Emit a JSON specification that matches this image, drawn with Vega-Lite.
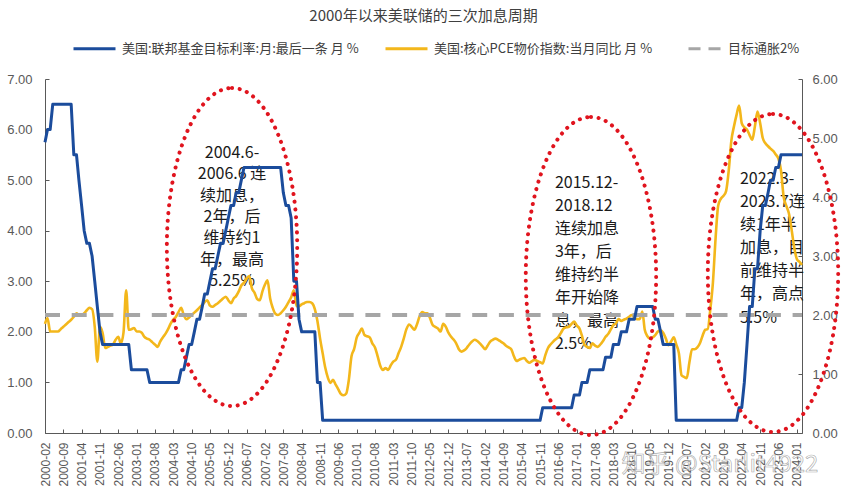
{
"$schema":"https://vega.github.io/schema/vega-lite/v6.json",
"width":757,"height":354,
"autosize":{"type":"none"},
"padding":{"left":45,"top":79,"right":49,"bottom":67},
"background":"#ffffff",
"config":{"view":{"stroke":null},"axis":{"grid":false}},
"title":{"text":"2000年以来美联储的三次加息周期","font":"Noto Sans CJK SC","fontSize":15,"fontWeight":"normal","color":"#404040","anchor":"middle","frame":"group","offset":2},
"datasets":{"m":[
{"d":"2000/02/01","f":5.75,"p":1.85},{"d":"2000/03/01","f":6,"p":1.95},{"d":"2000/04/01","f":6,"p":1.72},{"d":"2000/05/01","f":6.5,"p":1.72},{"d":"2000/06/01","f":6.5,"p":1.72},{"d":"2000/07/01","f":6.5,"p":1.72},{"d":"2000/08/01","f":6.5,"p":1.76},{"d":"2000/09/01","f":6.5,"p":1.8},{"d":"2000/10/01","f":6.5,"p":1.84},{"d":"2000/11/01","f":6.5,"p":1.88},{"d":"2000/12/01","f":6.5,"p":1.92},
{"d":"2001/01/01","f":5.5,"p":1.97},{"d":"2001/02/01","f":5.5,"p":2.03},{"d":"2001/03/01","f":5,"p":2.0},{"d":"2001/04/01","f":4.5,"p":2.0},{"d":"2001/05/01","f":4,"p":2.03},{"d":"2001/06/01","f":3.75,"p":2.08},{"d":"2001/07/01","f":3.75,"p":2.12},{"d":"2001/08/01","f":3.5,"p":2.1},{"d":"2001/09/01","f":3,"p":1.8},{"d":"2001/10/01","f":2.5,"p":1.21},{"d":"2001/11/01","f":2,"p":1.8},{"d":"2001/12/01","f":1.75,"p":1.7},
{"d":"2002/01/01","f":1.75,"p":1.44},{"d":"2002/02/01","f":1.75,"p":1.46},{"d":"2002/03/01","f":1.75,"p":1.48},{"d":"2002/04/01","f":1.75,"p":1.5},{"d":"2002/05/01","f":1.75,"p":1.58},{"d":"2002/06/01","f":1.75,"p":1.63},{"d":"2002/07/01","f":1.75,"p":1.52},{"d":"2002/08/01","f":1.75,"p":1.7},{"d":"2002/09/01","f":1.75,"p":2.42},{"d":"2002/10/01","f":1.75,"p":1.75},{"d":"2002/11/01","f":1.25,"p":1.76},{"d":"2002/12/01","f":1.25,"p":1.78},
{"d":"2003/01/01","f":1.25,"p":1.72},{"d":"2003/02/01","f":1.25,"p":1.72},{"d":"2003/03/01","f":1.25,"p":1.7},{"d":"2003/04/01","f":1.25,"p":1.63},{"d":"2003/05/01","f":1.25,"p":1.6},{"d":"2003/06/01","f":1,"p":1.58},{"d":"2003/07/01","f":1,"p":1.54},{"d":"2003/08/01","f":1,"p":1.5},{"d":"2003/09/01","f":1,"p":1.46},{"d":"2003/10/01","f":1,"p":1.55},{"d":"2003/11/01","f":1,"p":1.62},{"d":"2003/12/01","f":1,"p":1.68},
{"d":"2004/01/01","f":1,"p":1.76},{"d":"2004/02/01","f":1,"p":1.86},{"d":"2004/03/01","f":1,"p":1.92},{"d":"2004/04/01","f":1,"p":1.97},{"d":"2004/05/01","f":1,"p":2.05},{"d":"2004/06/01","f":1.25,"p":2.12},{"d":"2004/07/01","f":1.25,"p":2.0},{"d":"2004/08/01","f":1.5,"p":1.93},{"d":"2004/09/01","f":1.75,"p":1.96},{"d":"2004/10/01","f":1.75,"p":2.0},{"d":"2004/11/01","f":2,"p":2.04},{"d":"2004/12/01","f":2.25,"p":2.08},
{"d":"2005/01/01","f":2.25,"p":2.13},{"d":"2005/02/01","f":2.5,"p":2.17},{"d":"2005/03/01","f":2.75,"p":2.22},{"d":"2005/04/01","f":2.75,"p":2.25},{"d":"2005/05/01","f":3,"p":2.16},{"d":"2005/06/01","f":3.25,"p":2.14},{"d":"2005/07/01","f":3.25,"p":2.17},{"d":"2005/08/01","f":3.5,"p":2.2},{"d":"2005/09/01","f":3.75,"p":2.24},{"d":"2005/10/01","f":3.75,"p":2.28},{"d":"2005/11/01","f":4,"p":2.31},{"d":"2005/12/01","f":4.25,"p":2.25},
{"d":"2006/01/01","f":4.5,"p":2.2},{"d":"2006/02/01","f":4.5,"p":2.28},{"d":"2006/03/01","f":4.75,"p":2.32},{"d":"2006/04/01","f":4.75,"p":2.4},{"d":"2006/05/01","f":5,"p":2.5},{"d":"2006/06/01","f":5.25,"p":2.55},{"d":"2006/07/01","f":5.25,"p":2.62},{"d":"2006/08/01","f":5.25,"p":2.66},{"d":"2006/09/01","f":5.25,"p":2.45},{"d":"2006/10/01","f":5.25,"p":2.38},{"d":"2006/11/01","f":5.25,"p":2.27},{"d":"2006/12/01","f":5.25,"p":2.25},
{"d":"2007/01/01","f":5.25,"p":2.4},{"d":"2007/02/01","f":5.25,"p":2.52},{"d":"2007/03/01","f":5.25,"p":2.59},{"d":"2007/04/01","f":5.25,"p":2.28},{"d":"2007/05/01","f":5.25,"p":2.12},{"d":"2007/06/01","f":5.25,"p":2.02},{"d":"2007/07/01","f":5.25,"p":2.0},{"d":"2007/08/01","f":5.25,"p":2.03},{"d":"2007/09/01","f":4.75,"p":2.08},{"d":"2007/10/01","f":4.5,"p":2.14},{"d":"2007/11/01","f":4.5,"p":2.22},{"d":"2007/12/01","f":4.25,"p":2.3},
{"d":"2008/01/01","f":3,"p":2.42},{"d":"2008/02/01","f":3,"p":2.15},{"d":"2008/03/01","f":2.25,"p":2.15},{"d":"2008/04/01","f":2,"p":2.18},{"d":"2008/05/01","f":2,"p":2.2},{"d":"2008/06/01","f":2,"p":2.22},{"d":"2008/07/01","f":2,"p":2.22},{"d":"2008/08/01","f":2,"p":2.2},{"d":"2008/09/01","f":2,"p":2.1},{"d":"2008/10/01","f":1,"p":1.9},{"d":"2008/11/01","f":1,"p":1.6},{"d":"2008/12/01","f":0.25,"p":1.35},
{"d":"2009/01/01","f":0.25,"p":1.1},{"d":"2009/02/01","f":0.25,"p":0.93},{"d":"2009/03/01","f":0.25,"p":0.85},{"d":"2009/04/01","f":0.25,"p":0.9},{"d":"2009/05/01","f":0.25,"p":0.82},{"d":"2009/06/01","f":0.25,"p":0.74},{"d":"2009/07/01","f":0.25,"p":0.66},{"d":"2009/08/01","f":0.25,"p":0.64},{"d":"2009/09/01","f":0.25,"p":0.67},{"d":"2009/10/01","f":0.25,"p":0.9},{"d":"2009/11/01","f":0.25,"p":1.3},{"d":"2009/12/01","f":0.25,"p":1.42},
{"d":"2010/01/01","f":0.25,"p":1.62},{"d":"2010/02/01","f":0.25,"p":1.7},{"d":"2010/03/01","f":0.25,"p":1.77},{"d":"2010/04/01","f":0.25,"p":1.66},{"d":"2010/05/01","f":0.25,"p":1.64},{"d":"2010/06/01","f":0.25,"p":1.62},{"d":"2010/07/01","f":0.25,"p":1.52},{"d":"2010/08/01","f":0.25,"p":1.45},{"d":"2010/09/01","f":0.25,"p":1.3},{"d":"2010/10/01","f":0.25,"p":1.14},{"d":"2010/11/01","f":0.25,"p":1.07},{"d":"2010/12/01","f":0.25,"p":1.1},
{"d":"2011/01/01","f":0.25,"p":1.07},{"d":"2011/02/01","f":0.25,"p":1.15},{"d":"2011/03/01","f":0.25,"p":1.21},{"d":"2011/04/01","f":0.25,"p":1.24},{"d":"2011/05/01","f":0.25,"p":1.35},{"d":"2011/06/01","f":0.25,"p":1.46},{"d":"2011/07/01","f":0.25,"p":1.6},{"d":"2011/08/01","f":0.25,"p":1.76},{"d":"2011/09/01","f":0.25,"p":1.84},{"d":"2011/10/01","f":0.25,"p":1.8},{"d":"2011/11/01","f":0.25,"p":1.75},{"d":"2011/12/01","f":0.25,"p":1.84},
{"d":"2012/01/01","f":0.25,"p":1.98},{"d":"2012/02/01","f":0.25,"p":2.05},{"d":"2012/03/01","f":0.25,"p":2.03},{"d":"2012/04/01","f":0.25,"p":2.03},{"d":"2012/05/01","f":0.25,"p":1.95},{"d":"2012/06/01","f":0.25,"p":1.83},{"d":"2012/07/01","f":0.25,"p":1.8},{"d":"2012/08/01","f":0.25,"p":1.77},{"d":"2012/09/01","f":0.25,"p":1.72},{"d":"2012/10/01","f":0.25,"p":1.85},{"d":"2012/11/01","f":0.25,"p":1.8},{"d":"2012/12/01","f":0.25,"p":1.7},
{"d":"2013/01/01","f":0.25,"p":1.63},{"d":"2013/02/01","f":0.25,"p":1.58},{"d":"2013/03/01","f":0.25,"p":1.52},{"d":"2013/04/01","f":0.25,"p":1.42},{"d":"2013/05/01","f":0.25,"p":1.38},{"d":"2013/06/01","f":0.25,"p":1.4},{"d":"2013/07/01","f":0.25,"p":1.44},{"d":"2013/08/01","f":0.25,"p":1.5},{"d":"2013/09/01","f":0.25,"p":1.55},{"d":"2013/10/01","f":0.25,"p":1.58},{"d":"2013/11/01","f":0.25,"p":1.56},{"d":"2013/12/01","f":0.25,"p":1.52},
{"d":"2014/01/01","f":0.25,"p":1.47},{"d":"2014/02/01","f":0.25,"p":1.42},{"d":"2014/03/01","f":0.25,"p":1.48},{"d":"2014/04/01","f":0.25,"p":1.55},{"d":"2014/05/01","f":0.25,"p":1.58},{"d":"2014/06/01","f":0.25,"p":1.6},{"d":"2014/07/01","f":0.25,"p":1.58},{"d":"2014/08/01","f":0.25,"p":1.55},{"d":"2014/09/01","f":0.25,"p":1.52},{"d":"2014/10/01","f":0.25,"p":1.48},{"d":"2014/11/01","f":0.25,"p":1.45},{"d":"2014/12/01","f":0.25,"p":1.42},
{"d":"2015/01/01","f":0.25,"p":1.3},{"d":"2015/02/01","f":0.25,"p":1.22},{"d":"2015/03/01","f":0.25,"p":1.24},{"d":"2015/04/01","f":0.25,"p":1.26},{"d":"2015/05/01","f":0.25,"p":1.27},{"d":"2015/06/01","f":0.25,"p":1.22},{"d":"2015/07/01","f":0.25,"p":1.19},{"d":"2015/08/01","f":0.25,"p":1.22},{"d":"2015/09/01","f":0.25,"p":1.24},{"d":"2015/10/01","f":0.25,"p":1.22},{"d":"2015/11/01","f":0.25,"p":1.2},{"d":"2015/12/01","f":0.5,"p":1.18},
{"d":"2016/01/01","f":0.5,"p":1.32},{"d":"2016/02/01","f":0.5,"p":1.44},{"d":"2016/03/01","f":0.5,"p":1.5},{"d":"2016/04/01","f":0.5,"p":1.55},{"d":"2016/05/01","f":0.5,"p":1.59},{"d":"2016/06/01","f":0.5,"p":1.63},{"d":"2016/07/01","f":0.5,"p":1.7},{"d":"2016/08/01","f":0.5,"p":1.77},{"d":"2016/09/01","f":0.5,"p":1.79},{"d":"2016/10/01","f":0.5,"p":1.8},{"d":"2016/11/01","f":0.5,"p":1.85},{"d":"2016/12/01","f":0.75,"p":1.89},
{"d":"2017/01/01","f":0.75,"p":1.82},{"d":"2017/02/01","f":0.75,"p":1.77},{"d":"2017/03/01","f":1,"p":1.65},{"d":"2017/04/01","f":1,"p":1.49},{"d":"2017/05/01","f":1,"p":1.46},{"d":"2017/06/01","f":1.25,"p":1.44},{"d":"2017/07/01","f":1.25,"p":1.52},{"d":"2017/08/01","f":1.25,"p":1.48},{"d":"2017/09/01","f":1.25,"p":1.46},{"d":"2017/10/01","f":1.25,"p":1.5},{"d":"2017/11/01","f":1.25,"p":1.56},{"d":"2017/12/01","f":1.5,"p":1.63},
{"d":"2018/01/01","f":1.5,"p":1.68},{"d":"2018/02/01","f":1.5,"p":1.76},{"d":"2018/03/01","f":1.75,"p":1.83},{"d":"2018/04/01","f":1.75,"p":1.86},{"d":"2018/05/01","f":1.75,"p":1.93},{"d":"2018/06/01","f":2,"p":1.9},{"d":"2018/07/01","f":2,"p":1.92},{"d":"2018/08/01","f":2,"p":1.94},{"d":"2018/09/01","f":2.25,"p":1.97},{"d":"2018/10/01","f":2.25,"p":2.0},{"d":"2018/11/01","f":2.25,"p":1.95},{"d":"2018/12/01","f":2.5,"p":1.93},
{"d":"2019/01/01","f":2.5,"p":1.93},{"d":"2019/02/01","f":2.5,"p":2.06},{"d":"2019/03/01","f":2.5,"p":1.75},{"d":"2019/04/01","f":2.5,"p":1.64},{"d":"2019/05/01","f":2.5,"p":1.6},{"d":"2019/06/01","f":2.5,"p":1.62},{"d":"2019/07/01","f":2.25,"p":1.66},{"d":"2019/08/01","f":2.25,"p":1.72},{"d":"2019/09/01","f":2,"p":1.74},{"d":"2019/10/01","f":1.75,"p":1.7},{"d":"2019/11/01","f":1.75,"p":1.6},{"d":"2019/12/01","f":1.75,"p":1.49},
{"d":"2020/01/01","f":1.75,"p":1.55},{"d":"2020/02/01","f":1.75,"p":1.62},{"d":"2020/03/01","f":0.25,"p":1.5},{"d":"2020/04/01","f":0.25,"p":1.35},{"d":"2020/05/01","f":0.25,"p":0.98},{"d":"2020/06/01","f":0.25,"p":0.95},{"d":"2020/07/01","f":0.25,"p":0.93},{"d":"2020/08/01","f":0.25,"p":1.2},{"d":"2020/09/01","f":0.25,"p":1.42},{"d":"2020/10/01","f":0.25,"p":1.42},{"d":"2020/11/01","f":0.25,"p":1.45},{"d":"2020/12/01","f":0.25,"p":1.52},
{"d":"2021/01/01","f":0.25,"p":1.65},{"d":"2021/02/01","f":0.25,"p":1.75},{"d":"2021/03/01","f":0.25,"p":1.76},{"d":"2021/04/01","f":0.25,"p":2.1},{"d":"2021/05/01","f":0.25,"p":2.55},{"d":"2021/06/01","f":0.25,"p":3.3},{"d":"2021/07/01","f":0.25,"p":3.85},{"d":"2021/08/01","f":0.25,"p":3.97},{"d":"2021/09/01","f":0.25,"p":4.02},{"d":"2021/10/01","f":0.25,"p":4.1},{"d":"2021/11/01","f":0.25,"p":4.45},{"d":"2021/12/01","f":0.25,"p":4.95},
{"d":"2022/01/01","f":0.25,"p":5.2},{"d":"2022/02/01","f":0.25,"p":5.4},{"d":"2022/03/01","f":0.5,"p":5.55},{"d":"2022/04/01","f":0.5,"p":5.25},{"d":"2022/05/01","f":1,"p":5.18},{"d":"2022/06/01","f":1.75,"p":5.14},{"d":"2022/07/01","f":2.5,"p":5.05},{"d":"2022/08/01","f":2.5,"p":4.97},{"d":"2022/09/01","f":3.25,"p":5.2},{"d":"2022/10/01","f":3.25,"p":5.45},{"d":"2022/11/01","f":4,"p":5.25},{"d":"2022/12/01","f":4.5,"p":5.0},
{"d":"2023/01/01","f":4.5,"p":4.91},{"d":"2023/02/01","f":4.75,"p":4.86},{"d":"2023/03/01","f":5,"p":4.82},{"d":"2023/04/01","f":5,"p":4.78},{"d":"2023/05/01","f":5.25,"p":4.72},{"d":"2023/06/01","f":5.25,"p":4.65},{"d":"2023/07/01","f":5.5,"p":4.45},{"d":"2023/08/01","f":5.5,"p":4.0},{"d":"2023/09/01","f":5.5,"p":3.85},{"d":"2023/10/01","f":5.5,"p":3.72},{"d":"2023/11/01","f":5.5,"p":3.45},{"d":"2023/12/01","f":5.5,"p":3.15},
{"d":"2024/01/01","f":5.5,"p":2.95},{"d":"2024/02/01","f":5.5,"p":2.9},{"d":"2024/03/01","f":5.5,"p":2.85}
]},
"encoding":{"x":{"field":"d","type":"temporal",
 "scale":{"domain":[{"year":2000,"month":2,"date":1},{"year":2024,"month":3,"date":1}],"nice":false},
 "axis":{"values":[{"year":2000,"month":2,"date":1},{"year":2000,"month":9,"date":1},{"year":2001,"month":4,"date":1},{"year":2001,"month":11,"date":1},{"year":2002,"month":6,"date":1},{"year":2003,"month":1,"date":1},{"year":2003,"month":8,"date":1},{"year":2004,"month":3,"date":1},{"year":2004,"month":10,"date":1},{"year":2005,"month":5,"date":1},{"year":2005,"month":12,"date":1},{"year":2006,"month":7,"date":1},{"year":2007,"month":2,"date":1},{"year":2007,"month":9,"date":1},{"year":2008,"month":4,"date":1},{"year":2008,"month":11,"date":1},{"year":2009,"month":6,"date":1},{"year":2010,"month":1,"date":1},{"year":2010,"month":8,"date":1},{"year":2011,"month":3,"date":1},{"year":2011,"month":10,"date":1},{"year":2012,"month":5,"date":1},{"year":2012,"month":12,"date":1},{"year":2013,"month":7,"date":1},{"year":2014,"month":2,"date":1},{"year":2014,"month":9,"date":1},{"year":2015,"month":4,"date":1},{"year":2015,"month":11,"date":1},{"year":2016,"month":6,"date":1},{"year":2017,"month":1,"date":1},{"year":2017,"month":8,"date":1},{"year":2018,"month":3,"date":1},{"year":2018,"month":10,"date":1},{"year":2019,"month":5,"date":1},{"year":2019,"month":12,"date":1},{"year":2020,"month":7,"date":1},{"year":2021,"month":2,"date":1},{"year":2021,"month":9,"date":1},{"year":2022,"month":4,"date":1},{"year":2022,"month":11,"date":1},{"year":2023,"month":6,"date":1},{"year":2024,"month":1,"date":1}],
  "format":"%Y-%m","labelAngle":270,"labelFont":"Liberation Sans","labelFontSize":12,"labelColor":"#595959","labelPadding":13,"tickSize":-4,"tickColor":"#595959","domainColor":"#595959","title":null,"labelOverlap":false,"labelFlush":false,"labelBound":false,"grid":false}}},
"layer":[
 {"layer":[
  {"data":{"values":[{"d":"2006/01/13","v":4.886,"t":"2004.6-\n2006.6 连\n续加息，\n2年，后\n维持约1\n年，最高\n5.25%"}]},
   "mark":{"type":"text","align":"center","baseline":"top","lineBreak":"\n","lineHeight":21.4,"fontSize":16,"font":"Noto Sans CJK SC","color":"#1a1a1a"},
   "encoding":{"y":{"field":"v","type":"quantitative","scale":{"domain":[0,6],"nice":false},"axis":{"orient":"right","values":[0,1,2,3,4,5,6],"format":".2f","title":null,"grid":false,"labelFont":"Liberation Sans","labelFontSize":13,"labelColor":"#595959","labelPadding":14,"tickSize":-4,"tickColor":"#595959","domainColor":"#595959"}},"text":{"field":"t","type":"nominal"}}},
  {"data":{"values":[{"d":"2016/04/22","v":4.378,"t":"2015.12-\n2018.12\n连续加息\n3年，后\n维持约半\n年开始降\n息，最高\n2.5%"},{"d":"2022/03/11","v":4.441,"t":"2022.3-\n2023.7连\n续1年半\n加息，目\n前维持半\n年，高点\n5.5%"}]},
   "mark":{"type":"text","align":"left","baseline":"top","lineBreak":"\n","lineHeight":23.1,"fontSize":16,"font":"Noto Sans CJK SC","color":"#1a1a1a"},
   "encoding":{"y":{"field":"v","type":"quantitative","scale":{"domain":[0,6],"nice":false},"axis":{"orient":"right","values":[0,1,2,3,4,5,6],"format":".2f","title":null,"grid":false,"labelFont":"Liberation Sans","labelFontSize":13,"labelColor":"#595959","labelPadding":14,"tickSize":-4,"tickColor":"#595959","domainColor":"#595959"}},"text":{"field":"t","type":"nominal"}}},
  {"data":{"name":"m"},
   "mark":{"type":"line","strokeWidth":2.6,"interpolate":"monotone","strokeJoin":"round"},
   "encoding":{"y":{"field":"p","type":"quantitative","scale":{"domain":[0,6],"nice":false},"axis":{"orient":"right","values":[0,1,2,3,4,5,6],"format":".2f","title":null,"grid":false,"labelFont":"Liberation Sans","labelFontSize":13,"labelColor":"#595959","labelPadding":14,"tickSize":-4,"tickColor":"#595959","domainColor":"#595959"}},
    "color":{"datum":"美国:核心PCE物价指数:当月同比 月 %","type":"nominal","scale":{"domain":["美国:联邦基金目标利率:月:最后一条 月 %","美国:核心PCE物价指数:当月同比 月 %","目标通胀2%"],"range":["#1B4C9C","#F3B71B","#A6A6A6"]},
     "legend":{"title":null,"orient":"none","legendX":27,"legendY":-53,"direction":"horizontal","symbolType":"stroke","symbolSize":1764,"symbolStrokeWidth":3,"labelFont":"Noto Sans CJK SC","labelFontSize":13,"labelColor":"#404040","labelOffset":5,"columnPadding":20,"padding":0,"labelLimit":400,"encode":{"symbols":{"update":{"strokeDash":{"signal":"datum.value === '目标通胀2%' ? [0,9,12,8,12,60] : [1,0]"}}}}}}}},
  {"data":{"values":[{"d":"2000/02/01"},{"d":"2024/03/01"}]},
   "mark":{"type":"line","strokeWidth":4,"strokeDash":[15,11.7]},
   "encoding":{"y":{"datum":2,"type":"quantitative","scale":{"domain":[0,6],"nice":false},"axis":{"orient":"right","values":[0,1,2,3,4,5,6],"format":".2f","title":null,"grid":false,"labelFont":"Liberation Sans","labelFontSize":13,"labelColor":"#595959","labelPadding":14,"tickSize":-4,"tickColor":"#595959","domainColor":"#595959"}},
    "color":{"datum":"目标通胀2%","type":"nominal","scale":{"domain":["美国:联邦基金目标利率:月:最后一条 月 %","美国:核心PCE物价指数:当月同比 月 %","目标通胀2%"],"range":["#1B4C9C","#F3B71B","#A6A6A6"]},
     "legend":{"title":null,"orient":"none","legendX":27,"legendY":-53,"direction":"horizontal","symbolType":"stroke","symbolSize":1764,"symbolStrokeWidth":3,"labelFont":"Noto Sans CJK SC","labelFontSize":13,"labelColor":"#404040","labelOffset":5,"columnPadding":20,"padding":0,"labelLimit":400,"encode":{"symbols":{"update":{"strokeDash":{"signal":"datum.value === '目标通胀2%' ? [0,9,12,8,12,60] : [1,0]"}}}}}}}}
 ]},
 {"layer":[
  {"data":{"name":"m"},
   "mark":{"type":"line","strokeWidth":3,"strokeJoin":"round"},
   "encoding":{"y":{"field":"f","type":"quantitative","scale":{"domain":[0,7],"nice":false},"axis":{"orient":"left","values":[0,1,2,3,4,5,6,7],"format":".2f","title":null,"grid":false,"labelFont":"Liberation Sans","labelFontSize":13,"labelColor":"#595959","labelPadding":17,"tickSize":-4,"tickColor":"#595959","domainColor":"#595959"}},
    "color":{"datum":"美国:联邦基金目标利率:月:最后一条 月 %","type":"nominal","scale":{"domain":["美国:联邦基金目标利率:月:最后一条 月 %","美国:核心PCE物价指数:当月同比 月 %","目标通胀2%"],"range":["#1B4C9C","#F3B71B","#A6A6A6"]},
     "legend":{"title":null,"orient":"none","legendX":27,"legendY":-53,"direction":"horizontal","symbolType":"stroke","symbolSize":1764,"symbolStrokeWidth":3,"labelFont":"Noto Sans CJK SC","labelFontSize":13,"labelColor":"#404040","labelOffset":5,"columnPadding":20,"padding":0,"labelLimit":400,"encode":{"symbols":{"update":{"strokeDash":{"signal":"datum.value === '目标通胀2%' ? [0,9,12,8,12,60] : [1,0]"}}}}}}}},
  {"data":{"values":[{"d":"2006/01/13","v":3.678},{"d":"2017/06/14","v":3.105},{"d":"2023/03/30","v":3.164}]},
   "mark":{"type":"point","shape":"M0,-1C0.2264,-1 0.41,-0.5523 0.41,0C0.41,0.5523 0.2264,1 0,1C-0.2264,1 -0.41,0.5523 -0.41,0C-0.41,-0.5523 -0.2264,-1 0,-1Z","size":101124,"filled":false,"stroke":"#E0141E","strokeWidth":4,"strokeDash":[0.1,7.6],"strokeCap":"round","opacity":1},
   "encoding":{"y":{"field":"v","type":"quantitative","scale":{"domain":[0,7],"nice":false},"axis":{"orient":"left","values":[0,1,2,3,4,5,6,7],"format":".2f","title":null,"grid":false,"labelFont":"Liberation Sans","labelFontSize":13,"labelColor":"#595959","labelPadding":17,"tickSize":-4,"tickColor":"#595959","domainColor":"#595959"}}}},
  {"data":{"values":[{"d":"2021/07/22","v":-0.633,"t":"知乎 @Starlit4922"}]},
   "mark":{"type":"text","align":"center","baseline":"middle","fontSize":24,"font":"Noto Sans CJK SC","fill":"#ffffff","fillOpacity":0.6,"stroke":"#8a8a8a","strokeWidth":0.7,"strokeOpacity":0.7},
   "encoding":{"y":{"field":"v","type":"quantitative","scale":{"domain":[0,7],"nice":false},"axis":{"orient":"left","values":[0,1,2,3,4,5,6,7],"format":".2f","title":null,"grid":false,"labelFont":"Liberation Sans","labelFontSize":13,"labelColor":"#595959","labelPadding":17,"tickSize":-4,"tickColor":"#595959","domainColor":"#595959"}},"text":{"field":"t","type":"nominal"}}}
 ]}
],
"resolve":{"scale":{"y":"independent"}}
}
